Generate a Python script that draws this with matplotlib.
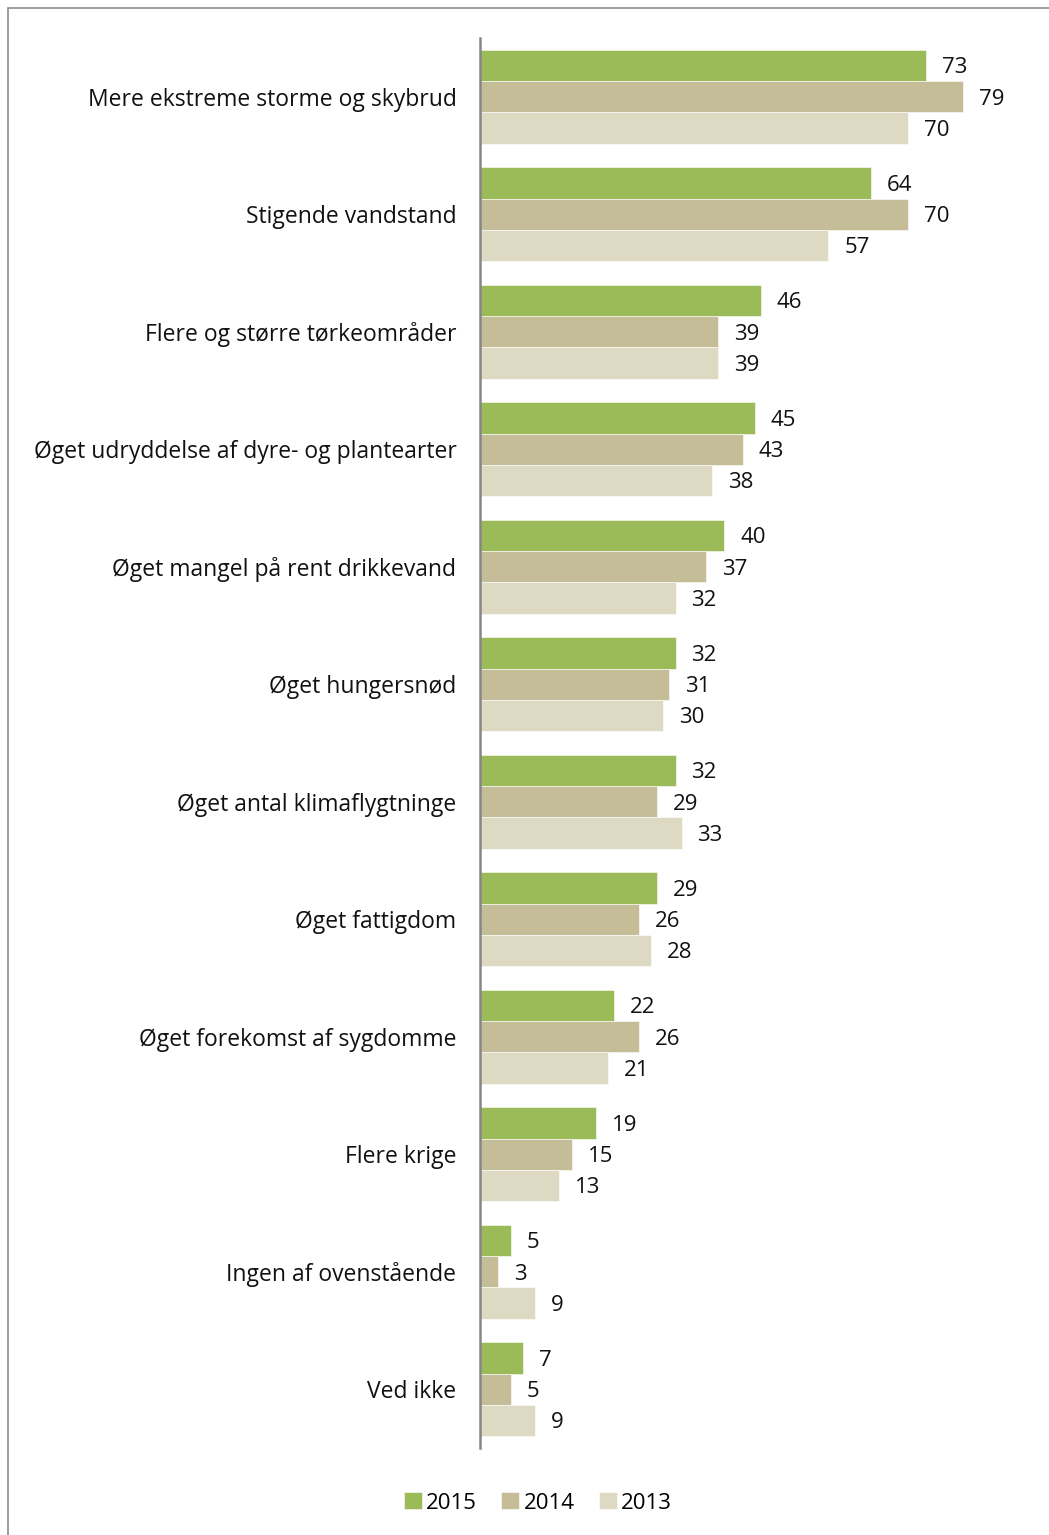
import numpy as np
from matplotlib import pyplot as plt
from matplotlib.patches import Rectangle

categories = ["Mere ekstreme storme og skybrud", "Stigende vandstand",
              "Flere og større tørkeområder", "Øget udryddelse af dyre- og plantearter",
              "Øget mangel på rent drikkevand", "Øget hungersnød",
              "Øget antal klimaflygtninge", "Øget fattigdom",
              "Øget forekomst af sygdomme", "Flere krige",
              "Ingen af ovenstående", "Ved ikke"]
v2015 = [73, 64, 46, 45, 40, 32, 32, 29, 22, 19, 5, 7]
v2014 = [79, 70, 39, 43, 37, 31, 29, 26, 26, 15, 3, 5]
v2013 = [70, 57, 39, 38, 32, 30, 33, 28, 21, 13, 9, 9]
years = ["2015", "2014", "2013"]
colors = ["#9bbb59", "#c4bd97", "#ddd9c3"]

plt.rcParams['font.family'] = ['Open Sans', 'DejaVu Sans']

W, H = 1049, 1535
fig = plt.figure(figsize=(W / 100, H / 100), dpi=100)

# frame around chart (only top and left edges visible)
fig.patches.append(Rectangle((8 / W, -0.1), 1.2, 1 - 8 / H + 0.1, transform=fig.transFigure,
                             fill=False, edgecolor="#8c8c8c", linewidth=1.2))

ax_left, ax_right = 480, 1000
ax_top, ax_bot = 38, 1448
ax = fig.add_axes([ax_left / W, 1 - ax_bot / H, (ax_right - ax_left) / W, (ax_bot - ax_top) / H])
scale = 6.11
ax.set_xlim(0, (ax_right - ax_left) / scale)

n = len(categories)
y = np.arange(n)
h = 0.266
series = [v2015, v2014, v2013]
for k, (vals, col, lab) in enumerate(zip(series, colors, years)):
    pos = y + (k - 1) * h
    ax.barh(pos, vals, height=h, color=col, label=lab, edgecolor="white", linewidth=0.4)
    for p, v in zip(pos, vals):
        ax.text(v + 2.6, p + 0.02, str(v), va="center", ha="left", fontsize=16, color="#111111")

ax.set_ylim(n - 0.5, -0.5)
ax.set_yticks(y)
ax.set_yticklabels(categories, fontsize=16.5, color="#111111")
ax.tick_params(axis="y", length=0, pad=17)
ax.set_xticks([])
for s in ["top", "right", "bottom"]:
    ax.spines[s].set_visible(False)
ax.spines["left"].set_color("#868686")
ax.spines["left"].set_linewidth(1.8)

fig.legend(loc="center", bbox_to_anchor=(538 / W, 1 - 1503 / H), ncol=3, frameon=False,
           fontsize=16, handlelength=0.8, handleheight=0.8, handletextpad=0.2,
           columnspacing=1.1)

fig.savefig("out.png", dpi=100)
